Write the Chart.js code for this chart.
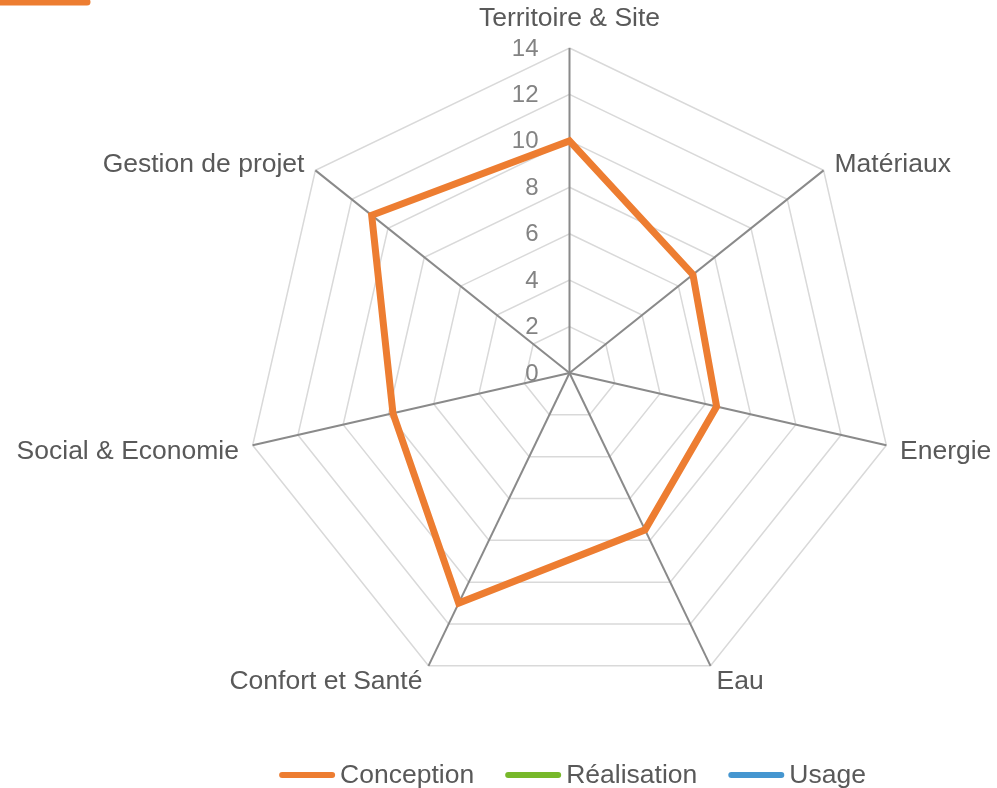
<!DOCTYPE html>
<html lang="fr">
<head>
<meta charset="utf-8">
<title>Radar</title>
<script src="https://cdn.jsdelivr.net/npm/chart.js"></script>
<style>
  html, body { margin: 0; padding: 0; background: #fff; }
  #radar { display: block; }
</style>
</head>
<body>
<canvas id="radar" width="997" height="788"></canvas>
<script>
const categories = ['Territoire & Site', 'Matériaux', 'Energie', 'Eau', 'Confort et Santé', 'Social & Economie', 'Gestion de projet'];
const conception = [10, 6.8, 6.5, 7.5, 11, 7.8, 10.9];
const realisation = [];
const usage = [];
const tickValues = [0, 2, 4, 6, 8, 10, 12, 14];

const FONT = '"Liberation Sans", Arial, sans-serif';
const LABEL_COLOR = '#595959';
const TICK_COLOR = '#838383';

// pins the radar to a fixed centre / radius and draws labels + legend by hand
const radarLayout = {
    id: 'radarLayout',
    afterLayout(chart) {
        const s = chart.scales.r;
        s.xCenter = 569.5;
        s.yCenter = 373;
        s.drawingArea = 325;
    },
    afterDraw(chart) {
        const ctx = chart.ctx;
        const s = chart.scales.r;
        ctx.save();

        // tick values to the left of the vertical axis
        ctx.font = '24px ' + FONT;
        ctx.fillStyle = TICK_COLOR;
        ctx.textAlign = 'right';
        ctx.textBaseline = 'middle';
        tickValues.forEach(v => {
            const y = s.yCenter - s.getDistanceFromCenterForValue(v);
            ctx.fillText(String(v), s.xCenter - 31, y + 1);
        });

        // category labels
        ctx.font = '26.5px ' + FONT;
        ctx.fillStyle = LABEL_COLOR;
        categories.forEach((label, i) => {
            const p = s.getPointPosition(i, s.drawingArea + 14);
            if (i === 0) {
                ctx.textAlign = 'center';
                ctx.fillText(label, p.x, p.y - 15);
            } else {
                ctx.textAlign = p.x > s.xCenter ? 'left' : 'right';
                ctx.fillText(label, p.x, p.y + 3);
            }
        });

        // legend
        const sets = chart.data.datasets;
        const lineW = 50, gapText = 5, gapItem = 31, legendY = 776;
        ctx.textAlign = 'left';
        const widths = sets.map(d => ctx.measureText(d.label).width);
        const total = widths.reduce((a, w) => a + lineW + 6 + gapText + w, 0) + gapItem * (sets.length - 1);
        let x = 572.5 - total / 2;
        sets.forEach((d, i) => {
            ctx.strokeStyle = d.borderColor;
            ctx.lineWidth = 6;
            ctx.lineCap = 'round';
            ctx.beginPath();
            ctx.moveTo(x + 3, legendY - 1);
            ctx.lineTo(x + 3 + lineW, legendY - 1);
            ctx.stroke();
            ctx.fillStyle = LABEL_COLOR;
            ctx.fillText(d.label, x + lineW + 6 + gapText, legendY);
            x += lineW + 6 + gapText + widths[i] + gapItem;
        });

        // orange stub in the top-left corner
        ctx.strokeStyle = '#ED7D31';
        ctx.lineWidth = 7;
        ctx.lineCap = 'round';
        ctx.beginPath();
        ctx.moveTo(-10, 2);
        ctx.lineTo(87, 2);
        ctx.stroke();

        ctx.restore();
    }
};

new Chart(document.getElementById('radar'), {
    type: 'radar',
    data: {
        labels: categories,
        datasets: [
            { label: 'Conception', data: conception, borderColor: '#ED7D31', backgroundColor: 'transparent', borderWidth: 7, borderJoinStyle: 'miter', pointRadius: 0, fill: false },
            { label: 'Réalisation', data: realisation, borderColor: '#77B82A', backgroundColor: 'transparent', borderWidth: 6, pointRadius: 0, fill: false },
            { label: 'Usage', data: usage, borderColor: '#4596D0', backgroundColor: 'transparent', borderWidth: 6, pointRadius: 0, fill: false }
        ]
    },
    options: {
        responsive: false,
        animation: false,
        devicePixelRatio: 1,
        plugins: { legend: { display: false }, tooltip: { enabled: false } },
        elements: { line: { tension: 0 } },
        scales: {
            r: {
                min: 0,
                max: 14,
                ticks: { stepSize: 2, display: false },
                pointLabels: { display: false },
                grid: { color: '#d9d9d9', lineWidth: 1.5 },
                angleLines: { color: '#8a8a8a', lineWidth: 2 }
            }
        }
    },
    plugins: [radarLayout]
});
</script>
</body>
</html>
